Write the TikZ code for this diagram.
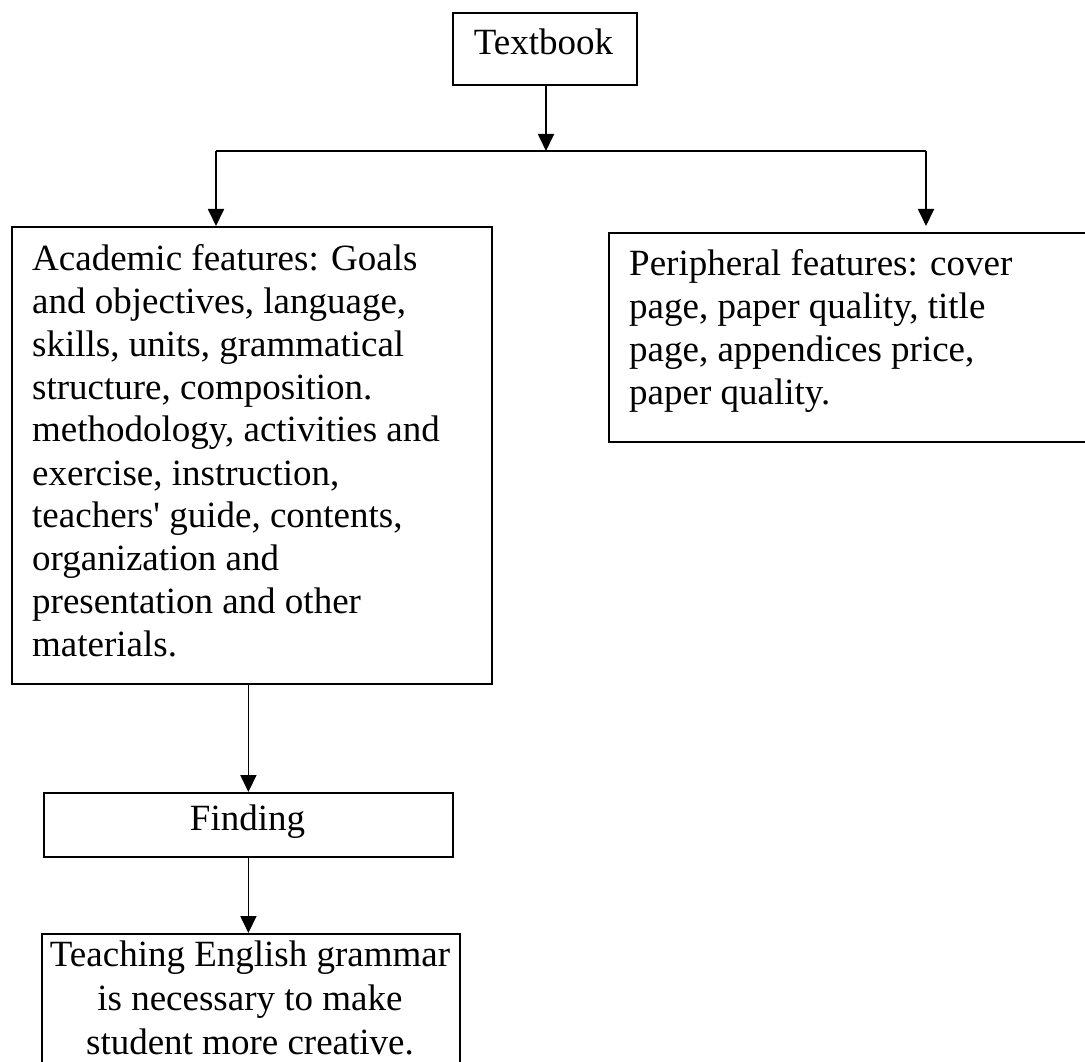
\documentclass[tikz,border=0pt]{standalone}
\usepackage{fontspec}
\setmainfont{Liberation Serif}
\usetikzlibrary{arrows.meta}
\begin{document}
\begin{tikzpicture}[x=1pt,y=-1pt,
  boxstyle/.style={draw, line width=1.8pt, inner sep=0pt, anchor=north west},
  conn/.style={line width=1.8pt},
  arr/.style={conn, -{Triangle[length=17pt,width=16pt]}},
  txt/.style={inner sep=0pt, font=\fontsize{37}{43}\selectfont}]
\useasboundingbox (0,0) rectangle (1085,1062);
% boxes
\node[boxstyle, minimum width=184pt, minimum height=72pt] (tb) at (452,12) {};
\node[boxstyle, minimum width=480pt, minimum height=457pt] (acad) at (11,226) {};
\node[boxstyle, minimum width=500pt, minimum height=209pt] (per) at (608,232) {};
\node[boxstyle, minimum width=409pt, minimum height=64pt] (find) at (43,792) {};
\node[boxstyle, minimum width=418pt, minimum height=150pt] (fin) at (41,933) {};
% texts
\node[txt, anchor=base] (tbt) at (543.5,55) {Textbook};
\node[txt, anchor=base west] (acadt) at (32,270) {\parbox[t]{470pt}{\raggedright Academic features: Goals\\ and objectives, language,\\ skills, units, grammatical\\ structure, composition.\\ methodology, activities and\\ exercise, instruction,\\ teachers\textquotesingle{} guide, contents,\\ organization and\\ presentation and other\\ materials.}};
\node[txt, anchor=base west] (pert) at (629,275) {\parbox[t]{450pt}{\raggedright Peripheral features: cover\\ page, paper quality, title\\ page, appendices price,\\ paper quality.}};
\node[txt, anchor=base] (findt) at (247.5,830) {Finding};
\node[txt, anchor=base] (fint) at (250,966) {\parbox[t]{430pt}{\centering\baselineskip=44pt Teaching English grammar\\ is necessary to make\\ student more creative.}};
% connectors
\coordinate (split) at (546,151);
\coordinate (jl) at (216,151);
\coordinate (jr) at (926,151);
\draw[arr] (tb.south -| split) -- (split);
\draw[conn] (jl) -- (jr);
\draw[arr] (jl) -- (jl |- acad.north);
\draw[arr] (jr) -- ([yshift=6pt]jr |- per.north);
\draw[arr] (find.north |- acad.south) -- (find.north);
\draw[arr] (find.south) -- (find.south |- fin.north);
\end{tikzpicture}
\end{document}
